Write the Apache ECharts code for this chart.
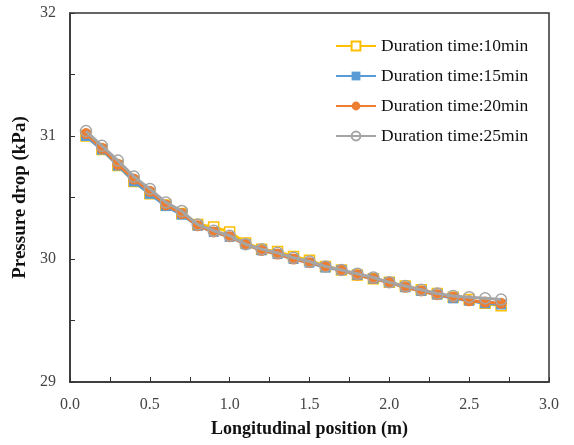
<!DOCTYPE html>
<html><head><meta charset="utf-8">
<script src="https://cdn.jsdelivr.net/npm/echarts@6/dist/echarts.min.js"></script>
<style>html,body{margin:0;padding:0;background:#fff}#c{width:574px;height:445px}</style>
</head><body><div id="c"></div>
<script>
const positions = [0.1,0.2,0.3,0.4,0.5,0.6,0.7,0.8,0.9,1.0,1.1,1.2,1.3,1.4,1.5,1.6,1.7,1.8,1.9,2.0,2.1,2.2,2.3,2.4,2.5,2.6,2.7];
const seriesNames = ['Duration time:10min','Duration time:15min','Duration time:20min','Duration time:25min'];
const d10 = [31.00,30.89,30.76,30.63,30.53,30.44,30.37,30.28,30.26,30.22,30.13,30.08,30.06,30.02,29.99,29.94,29.91,29.87,29.84,29.81,29.78,29.75,29.72,29.69,29.67,29.64,29.62];
const d15 = [31.00,30.89,30.76,30.63,30.53,30.43,30.36,30.27,30.22,30.18,30.12,30.07,30.04,30.00,29.97,29.93,29.91,29.87,29.84,29.81,29.77,29.74,29.71,29.68,29.66,29.64,29.63];
const d20 = [31.02,30.90,30.77,30.65,30.55,30.44,30.37,30.27,30.22,30.18,30.12,30.07,30.04,30.00,29.97,29.94,29.91,29.87,29.84,29.81,29.77,29.74,29.71,29.69,29.66,29.65,29.64];
const d25 = [31.04,30.92,30.80,30.67,30.57,30.46,30.39,30.28,30.23,30.19,30.12,30.08,30.05,30.01,29.98,29.94,29.91,29.88,29.85,29.81,29.78,29.75,29.72,29.70,29.69,29.68,29.67];
const xTicks = [0.0,0.5,1.0,1.5,2.0,2.5,3.0];
const yTicks = [29,30,31,32];

const colors = ['#FFC000','#5B9BD5','#ED7D31','#A5A5A5'];
const symbols = ['rect','rect','circle','circle'];
const fills = ['#ffffff','#5B9BD5','#ED7D31','rgba(255,255,255,0)'];
const allData = [d10,d15,d20,d25];
const serif = '"Liberation Serif","Times New Roman",serif';

const chart = echarts.init(document.getElementById('c'));
chart.setOption({
  animation:false,
  backgroundColor:'#fff',
  grid:{left:70,top:13,right:25,bottom:63,show:true,borderColor:'#333',borderWidth:1.5},
  legend:{
    orient:'vertical', left:330, top:32, itemWidth:40, itemHeight:11, itemGap:12,
    textStyle:{fontFamily:serif,fontSize:17.5,color:'#111'},
    data:seriesNames
  },
  xAxis:{
    type:'value', min:0, max:3, interval:0.25,
    name:'Longitudinal position (m)', nameLocation:'middle', nameGap:38,
    nameTextStyle:{fontFamily:serif,fontSize:18,fontWeight:'bold',color:'#111'},
    axisLine:{lineStyle:{color:'#333',width:1.5}},
    axisTick:{inside:true,length:5,lineStyle:{color:'#333'}},
    splitLine:{show:false},
    axisLabel:{fontFamily:serif,fontSize:16,color:'#444',margin:15,
      formatter:v=>{const t=xTicks.find(a=>Math.abs(a-v)<1e-6);return t===undefined?'':t.toFixed(1);}}
  },
  yAxis:{
    type:'value', min:29, max:32, interval:0.5,
    name:'Pressure drop (kPa)', nameLocation:'middle', nameGap:36,
    nameTextStyle:{fontFamily:serif,fontSize:19,fontWeight:'bold',color:'#111'},
    axisLine:{show:true,lineStyle:{color:'#333',width:1.5}},
    axisTick:{show:true,inside:true,length:5,lineStyle:{color:'#333'}},
    splitLine:{show:false},
    axisLabel:{fontFamily:serif,fontSize:16,color:'#444',margin:14,
      formatter:v=>{const t=yTicks.find(a=>Math.abs(a-v)<1e-6);return t===undefined?'':String(t);}}
  },
  series: seriesNames.map((n,i)=>({
    name:n, type:'line',
    data: positions.map((x,j)=>[x,allData[i][j]]),
    symbol:symbols[i], symbolSize: i===0||i===1?10:11,
    showAllSymbol:true,
    lineStyle:{color:colors[i],width:3},
    itemStyle:{color:fills[i],borderColor:colors[i],borderWidth: i===0||i===3?1.5:0},
    z:2+i
  }))
});
</script></body></html>
